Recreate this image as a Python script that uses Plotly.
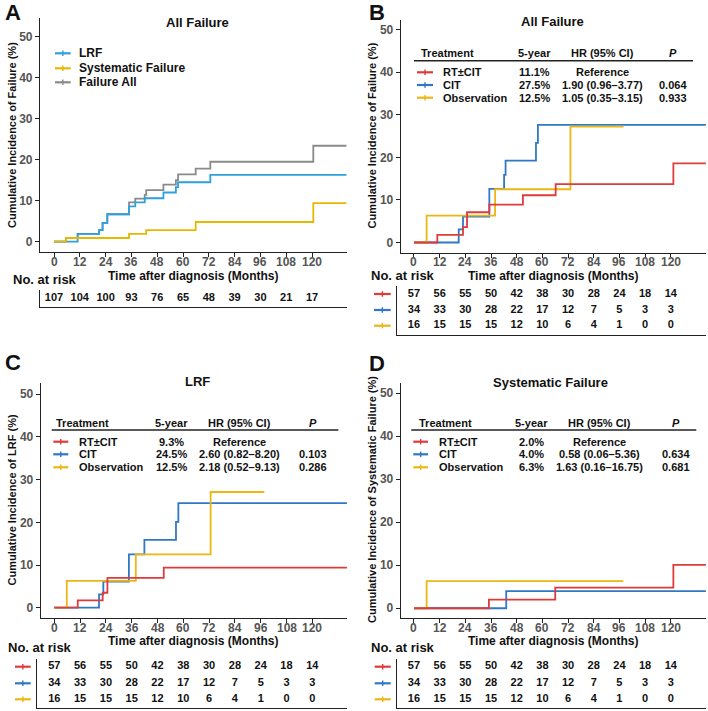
import plotly.graph_objects as go

# ---------------- data ----------------
risk_times = [0, 12, 24, 36, 48, 60, 72, 84, 96, 108, 120]
risk_all = [107, 104, 100, 93, 76, 65, 48, 39, 30, 21, 17]
risk_rt = [57, 56, 55, 50, 42, 38, 30, 28, 24, 18, 14]
risk_cit = [34, 33, 30, 28, 22, 17, 12, 7, 5, 3, 3]
risk_obs = [16, 15, 15, 15, 12, 10, 6, 4, 1, 0, 0]

# Panel A (all patients)
a_lrf_t = [0, 11, 21, 22.6, 24.8, 34.9, 37.8, 42.2, 50.9, 56.7, 57.7, 72.7, 136]
a_lrf_v = [0, 1.9, 2.8, 4.6, 6.7, 8.6, 9.6, 10.6, 12.0, 13.3, 14.5, 16.3, 16.3]
a_sys_t = [0, 5.6, 34.9, 42.9, 65.9, 120.6, 136]
a_sys_v = [0, 0.9, 1.9, 2.8, 4.8, 9.4, 9.4]
a_all_t = [0, 5.6, 11, 21, 22.6, 24.8, 34.9, 37.8, 42.2, 42.9, 50.9, 56.7, 57.7, 65.9, 72.7, 120.6, 136]
a_all_v = [0, 0.9, 1.9, 2.8, 4.6, 6.7, 9.6, 10.5, 11.4, 12.6, 13.9, 15.0, 16.4, 17.8, 19.5, 23.4, 23.4]

# Panel B (all failure by treatment)
b_rt_t = [0, 10.9, 22.9, 24.8, 35.2, 50.9, 66.2, 121.2, 136.4]
b_rt_v = [0, 1.8, 3.6, 7.1, 8.9, 11.1, 13.7, 18.6, 18.6]
b_cit_t = [0, 20.9, 22.9, 35.2, 42.1, 42.8, 57.0, 57.9, 136.4]
b_cit_v = [0, 3.1, 6.1, 12.6, 15.9, 19.2, 23.4, 27.6, 27.6]
b_obs_t = [0, 5.9, 37.9, 73.1, 97.9]
b_obs_v = [0, 6.3, 12.5, 27.2, 27.2]

# Panel C (LRF by treatment)
c_rt_t = [0, 10.9, 22.5, 24.7, 50.9, 136.1]
c_rt_v = [0, 1.7, 3.5, 7.0, 9.4, 9.4]
c_cit_t = [0, 20.8, 22.8, 34.7, 41.9, 56.6, 57.7, 136.1]
c_cit_v = [0, 3.1, 6.1, 12.5, 15.9, 20.1, 24.5, 24.5]
c_obs_t = [0, 5.8, 37.9, 72.7, 97.7]
c_obs_v = [0, 6.3, 12.5, 27.1, 27.1]

# Panel D (systematic failure by treatment)
d_rt_t = [0, 35, 66, 121.2, 136.4]
d_rt_v = [0, 2.0, 4.8, 10.1, 10.1]
d_cit_t = [0, 43.1, 136.4]
d_cit_v = [0, 4.0, 4.0]
d_obs_t = [0, 5.9, 97.8]
d_obs_v = [0, 6.3, 6.3]

groups = ["RT±CIT", "CIT", "Observation"]
b_5y = ["11.1%", "27.5%", "12.5%"]
b_hr = ["Reference", "1.90 (0.96–3.77)", "1.05 (0.35–3.15)"]
b_p = ["", "0.064", "0.933"]
c_5y = ["9.3%", "24.5%", "12.5%"]
c_hr = ["Reference", "2.60 (0.82–8.20)", "2.18 (0.52–9.13)"]
c_p = ["", "0.103", "0.286"]
d_5y = ["2.0%", "4.0%", "6.3%"]
d_hr = ["Reference", "0.58 (0.06–5.36)", "1.63 (0.16–16.75)"]
d_p = ["", "0.634", "0.681"]

a_names = ["LRF", "Systematic Failure", "Failure All"]

# ---------------- style ----------------
W, H = 708, 711
FONT = "Liberation Sans, Arial, sans-serif"
RED, BLUE, YEL = "#DF3B3B", "#2F78C8", "#ECB614"
A_BLUE, A_YEL, A_GRAY = "#2E9FDF", "#E7B800", "#8A8A8A"
AX = "#222222"
TICKC = "#555555"


def fx(p):
    return p / W


def fy(p):
    return 1 - p / H


fig = go.Figure()
layout = dict(width=W, height=H, margin=dict(l=0, r=0, t=0, b=0),
              paper_bgcolor="white", plot_bgcolor="white", showlegend=False)
annotations = []
shapes = []


def axname(i, kind):
    return kind if i == 1 else f"{kind}{i}"


def main_axes(i, xd, yd, xr, yr):
    layout["xaxis" + ("" if i == 1 else str(i))] = dict(
        domain=[fx(xd[0]), fx(xd[1])], range=xr, anchor=axname(i, "y"),
        showline=True, linecolor=AX, linewidth=1.1, ticks="outside", ticklen=4,
        tickcolor=AX, tickvals=risk_times, showgrid=False, zeroline=False,
        showticklabels=False)
    layout["yaxis" + ("" if i == 1 else str(i))] = dict(
        domain=[fy(yd[1]), fy(yd[0])], range=yr, anchor=axname(i, "x"),
        showline=True, linecolor=AX, linewidth=1.1, ticks="outside", ticklen=4,
        tickcolor=AX, tickvals=[0, 10, 20, 30, 40, 50], showgrid=False,
        zeroline=False,
        tickfont=dict(family=FONT, size=12, color=TICKC, weight="bold"))


def table_axes(i, xd, yd, xr, yr):
    layout["xaxis" + str(i)] = dict(
        domain=[fx(xd[0]), fx(xd[1])], range=xr, anchor=axname(i, "y"),
        showline=True, linecolor=AX, linewidth=1.3, ticks="",
        showticklabels=False, showgrid=False, zeroline=False)
    layout["yaxis" + str(i)] = dict(
        domain=[fy(yd[1]), fy(yd[0])], range=yr, anchor=axname(i, "x"),
        showline=True, linecolor=AX, linewidth=1.3, ticks="",
        showticklabels=False, showgrid=False, zeroline=False)


def curve(i, t, v, color):
    fig.add_trace(go.Scatter(x=t, y=v, mode="lines",
                             line=dict(color=color, width=1.8, shape="hv"),
                             xaxis=axname(i, "x"), yaxis=axname(i, "y"),
                             hoverinfo="skip"))


def text_row(i, row, values, color="#111111", size=11):
    fig.add_trace(go.Scatter(
        x=risk_times, y=[row] * len(values), text=[str(n) for n in values],
        mode="text", textposition="middle center", cliponaxis=False,
        textfont=dict(family=FONT, size=size, color=color, weight="bold"),
        xaxis=axname(i, "x"), yaxis=axname(i, "y"), hoverinfo="skip"))


def ann(text, x, y, size, xanchor="center", color="#111111", angle=0, bold=True):
    annotations.append(dict(
        text=f"<b>{text}</b>" if bold else text, x=fx(x), y=fy(y),
        xref="paper", yref="paper", xanchor=xanchor, yanchor="middle",
        showarrow=False, textangle=angle,
        font=dict(family=FONT, size=size, color=color)))


def xtick_labels(i, ypx):
    for t in risk_times:
        annotations.append(dict(
            text=f"<b>{t}</b>", x=t, xref=axname(i, "x"), y=fy(ypx),
            yref="paper", xanchor="center", yanchor="middle", showarrow=False,
            font=dict(family=FONT, size=12, color=TICKC)))


def key(x0, x1, y, color):
    shapes.append(dict(type="line", xref="paper", yref="paper",
                       x0=fx(x0), x1=fx(x1), y0=fy(y), y1=fy(y),
                       line=dict(color=color, width=2.2)))
    xm = (x0 + x1) / 2
    shapes.append(dict(type="line", xref="paper", yref="paper",
                       x0=fx(xm), x1=fx(xm), y0=fy(y - 2.8), y1=fy(y + 2.8),
                       line=dict(color=color, width=1.4)))


def hline(x0, x1, y):
    shapes.append(dict(type="line", xref="paper", yref="paper",
                       x0=fx(x0), x1=fx(x1), y0=fy(y), y1=fy(y),
                       line=dict(color=AX, width=1.4)))


# ---------------- axes ----------------
main_axes(1, (40, 347), (18, 251.7), [-6.51, 136.28], [-2.44, 54.56])
main_axes(2, (400.7, 706), (20, 252.7), [-6.21, 136.45], [-2.39, 52.23])
main_axes(3, (40.7, 347), (383, 618.3), [-6.33, 136.14], [-2.48, 52.62])
main_axes(4, (400.7, 706), (383, 618.3), [-6.21, 136.45], [-2.33, 52.33])

table_axes(5, (40, 347), (290, 307), [-6.51, 136.28], [-0.5625, 0.5])
table_axes(6, (397.3, 706), (286, 335), [-7.80, 136.45], [-0.587, 2.505])
table_axes(7, (37.3, 347), (659, 708), [-7.91, 136.14], [-0.534, 2.472])
table_axes(8, (396.7, 706), (659, 708), [-8.08, 136.45], [-0.534, 2.472])

# x tick labels
for i, ypx in zip((1, 2, 3, 4), (262, 262.3, 628.3, 628.3)):
    xtick_labels(i, ypx)

# ---------------- curves ----------------
curve(1, a_all_t, a_all_v, A_GRAY)
curve(1, a_lrf_t, a_lrf_v, A_BLUE)
curve(1, a_sys_t, a_sys_v, A_YEL)

for i, (rt, cit, obs) in zip(
        [2, 3, 4],
        [((b_rt_t, b_rt_v), (b_cit_t, b_cit_v), (b_obs_t, b_obs_v)),
         ((c_rt_t, c_rt_v), (c_cit_t, c_cit_v), (c_obs_t, c_obs_v)),
         ((d_rt_t, d_rt_v), (d_cit_t, d_cit_v), (d_obs_t, d_obs_v))]):
    curve(i, cit[0], cit[1], BLUE)
    curve(i, obs[0], obs[1], YEL)
    curve(i, rt[0], rt[1], RED)

# ---------------- risk tables ----------------
text_row(5, 0, risk_all)
for i in (6, 7, 8):
    text_row(i, 2, risk_rt)
    text_row(i, 1, risk_cit)
    text_row(i, 0, risk_obs)

# ---------------- text ----------------
# panel letters
ann("A", 13, 13, 22)
ann("B", 376.5, 12, 22)
ann("C", 12.5, 362.5, 22)
ann("D", 376.5, 363, 22)

# titles
ann("All Failure", 197, 22, 13)
ann("All Failure", 552, 21.7, 13)
ann("LRF", 197, 381.7, 13)
ann("Systematic Failure", 550.7, 382.7, 13)

# axis titles
ann("Time after diagnosis (Months)", 193, 275.5, 12)
ann("Time after diagnosis (Months)", 553.3, 276.5, 12)
ann("Time after diagnosis (Months)", 193.3, 640.5, 12)
ann("Time after diagnosis (Months)", 553.3, 641, 12)
ann("Cumulative Incidence of Failure (%)", 12, 135, 11, angle=-90)
ann("Cumulative Incidence of Failure (%)", 371.5, 136, 11, angle=-90)
ann("Cumulative Incidence of LRF (%)", 11.5, 500, 11, angle=-90)
ann("Cumulative Incidence of Systematic Failure (%)", 372, 500, 11, angle=-90)

# No. at risk
ann("No. at risk", 11, 280, 13, xanchor="left")
ann("No. at risk", 369, 275, 13, xanchor="left")
ann("No. at risk", 6, 647.3, 13, xanchor="left")
ann("No. at risk", 369, 647.3, 13, xanchor="left")

# risk-table row keys
for x0, x1, rows in [(374, 390.7, (294, 310, 325.7)),
                     (15, 30.7, (666.7, 683.3, 699.3)),
                     (374.7, 390.7, (666.7, 683.3, 699.3))]:
    for y, c in zip(rows, (RED, BLUE, YEL)):
        key(x0, x1, y, c)

# panel A legend
for y, c, name in zip((53.3, 68.3, 82.3), (A_BLUE, A_YEL, A_GRAY), a_names):
    key(55, 70.7, y, c)
    ann(name, 76.5, y, 12, xanchor="left")

# stats tables (B, C, D)
stat_specs = [
    dict(tl=419, k0=417, k1=433, lab=441, c5=534, chr=602, cp=673,
         l0=414, l1=693, ly=60.7, hy=53.3, rows=(72.3, 85, 97.7),
         five=b_5y, hr=b_hr, p=b_p),
    dict(tl=54.3, k0=53.3, k1=68.3, lab=76.7, c5=171, chr=239, cp=313.3,
         l0=51.7, l1=338.3, ly=430, hy=422.7, rows=(441.7, 454.3, 467.3),
         five=c_5y, hr=c_hr, p=c_p),
    dict(tl=416.7, k0=413.3, k1=428, lab=437.3, c5=531.7, chr=599, cp=675.7,
         l0=411.3, l1=696.3, ly=430, hy=422.7, rows=(441.7, 454.3, 467.3),
         five=d_5y, hr=d_hr, p=d_p),
]
for s in stat_specs:
    ann("Treatment", s["tl"], s["hy"], 11, xanchor="left")
    ann("5-year", s["c5"], s["hy"], 11)
    ann("HR (95% CI)", s["chr"], s["hy"], 11)
    ann("<i>P</i>", s["cp"], s["hy"], 11)
    hline(s["l0"], s["l1"], s["ly"])
    for y, c, g, f, h, p in zip(s["rows"], (RED, BLUE, YEL), groups,
                                s["five"], s["hr"], s["p"]):
        key(s["k0"], s["k1"], y, c)
        ann(g, s["lab"], y, 11, xanchor="left")
        ann(f, s["c5"], y, 11)
        ann(h, s["chr"], y, 11)
        if p:
            ann(p, s["cp"], y, 11)

layout["annotations"] = annotations
layout["shapes"] = shapes
fig.update_layout(**layout)
fig.write_html("out.html")
